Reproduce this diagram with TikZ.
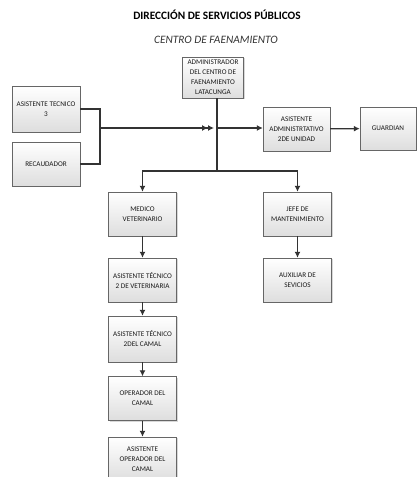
\documentclass[tikz,border=0pt]{standalone}
\usepackage{fontspec}
\setmainfont{Carlito}
\usetikzlibrary{arrows.meta,shadows}

\begin{document}
\begin{tikzpicture}[x=1pt, y=-1pt,
    box/.style={draw=black!60, top color=white, bottom color=black!13,
      drop shadow={shadow xshift=1.2pt, shadow yshift=-1.2pt, fill=black!30, opacity=.5},
      minimum width=68pt, minimum height=44pt, inner sep=1pt, align=center,
      text=black!90, font=\fontsize{7.2}{10}\selectfont},
    wire/.style={draw=black!80, line width=1.3pt},
    link/.style={wire, -{Latex[length=6pt,width=6pt]}}]
  \useasboundingbox (0,0) rectangle (418,477);

  \node[font=\bfseries\fontsize{11.3}{12}\selectfont] (title) at (217,15) {DIRECCIÓN DE SERVICIOS PÚBLICOS};
  \node[font=\itshape\fontsize{11.3}{12}\selectfont, text=black!80] (sub) at (216,40) {CENTRO DE FAENAMIENTO};

  \node[box, minimum width=61pt, minimum height=41pt] (admin) at (213,77.5) {ADMINISTRADOR\\DEL CENTRO DE\\FAENAMIENTO\\LATACUNGA};
  \node[box, minimum height=46pt] (at3) at (46,109) {ASISTENTE TECNICO\\3};
  \node[box] (rec) at (46,164) {RECAUDADOR};
  \node[box, minimum width=67pt] (adm2) at (296.5,129) {ASISTENTE\\ADMINISTRTATIVO\\2DE UNIDAD};
  \node[box, minimum width=56pt, minimum height=43pt] (guard) at (388,128.5) {GUARDIAN};
  \node[box] (medico) at (142.5,214) {MEDICO\\VETERINARIO};
  \node[box] (jefe) at (297.5,214) {JEFE DE\\MANTENIMIENTO};
  \node[box] (asvet) at (142.5,280) {ASISTENTE TÉCNICO\\2 DE VETERINARIA};
  \node[box] (aux) at (297.5,280) {AUXILIAR DE\\SEVICIOS};
  \node[box, minimum height=46pt] (ascamal) at (142.5,339) {ASISTENTE TÉCNICO\\2DEL CAMAL};
  \node[box] (oper) at (142.5,398.5) {OPERADOR DEL\\CAMAL};
  \node[box] (asop) at (142.5,459) {ASISTENTE\\OPERADOR DEL\\CAMAL};

  \coordinate (join) at (100,128);
  \coordinate (hub) at (217,128);
  \coordinate (split) at (217,171);

  \draw[wire] (at3) -| (join) |- (rec);
  \draw[wire, -{Latex[length=6pt,width=6pt]Latex[length=6pt,width=6pt]}, shorten >=3pt] (join) -- (hub);
  \draw[wire] (admin.south -| hub) -- (split);
  \draw[link] (hub) -- (hub -| adm2.west);
  \draw[link] (adm2) -- (guard);
  \draw[link] (split) -| (medico);
  \draw[link] (split) -| (jefe);
  \draw[link] (medico) -- (asvet);
  \draw[link] (jefe) -- (aux);
  \draw[link] (asvet) -- (ascamal);
  \draw[link] (ascamal) -- (oper);
  \draw[link] (oper) -- (asop);
\end{tikzpicture}
\end{document}
